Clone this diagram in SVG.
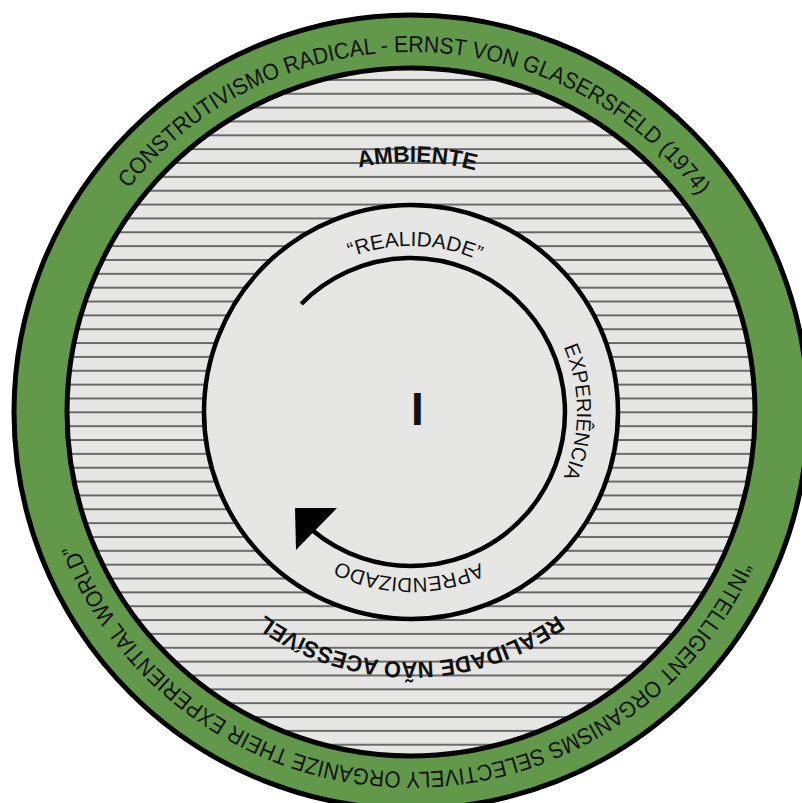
<svg xmlns="http://www.w3.org/2000/svg" width="802" height="803" viewBox="0 0 802 803">
<style>
.ring{fill:#62984a;stroke:#000;stroke-width:5}
.env{fill:url(#hatch);stroke:#000;stroke-width:5}
.real{fill:#e6e6e5;stroke:#000;stroke-width:4.5}
.t{font-family:"Liberation Sans",Arial,Helvetica,sans-serif;fill:#111}
.outer{font-size:23px}
.mid{font-size:20.5px}
.bold{font-weight:bold;font-size:23px}
.big{font-weight:bold;font-size:46px}
.arc{fill:none;stroke:#000;stroke-width:4.5}
</style>
<defs>
<pattern id="hatch" patternUnits="userSpaceOnUse" x="0" y="3.725" width="802" height="13.85">
<rect width="802" height="13.85" fill="#e6e6e5"/>
<rect y="6.3" width="802" height="1.3" fill="#2a2a2a"/>
</pattern>
<path id="pOuter" d="M51 412 A360 360 0 1 1 771 412 A360 360 0 1 1 51 412"/>
<path id="pEnv" d="M161 412 A250 250 0 1 1 661 412 A250 250 0 1 1 161 412"/>
<path id="pMid" d="M245 412 A166 166 0 1 1 577 412 A166 166 0 1 1 245 412"/>
</defs>
<rect width="802" height="803" fill="#fff"/>
<g id="outer-ring">
<circle class="ring" cx="411" cy="412" r="397"/>
<text class="t outer"><textPath href="#pOuter" startOffset="25.2%" text-anchor="middle" textLength="658" lengthAdjust="spacingAndGlyphs">CONSTRUTIVISMO RADICAL - ERNST VON GLASERSFELD (1974)</textPath></text>
<text class="t outer"><textPath href="#pOuter" startOffset="75.4%" text-anchor="middle" textLength="842" lengthAdjust="spacingAndGlyphs">“INTELLIGENT ORGANISMS SELECTIVELY ORGANIZE THEIR EXPERIENTIAL WORLD”</textPath></text>
</g>
<g id="ambiente">
<circle class="env" cx="411" cy="412" r="344"/>
<text class="t bold"><textPath href="#pEnv" startOffset="25.4%" text-anchor="middle" textLength="118" lengthAdjust="spacingAndGlyphs">AMBIENTE</textPath></text>
<text class="t bold"><textPath href="#pEnv" startOffset="75%" text-anchor="middle" textLength="312" lengthAdjust="spacingAndGlyphs">REALIDADE NÃO ACESSíVEL</textPath></text>
</g>
<g id="realidade">
<circle class="real" cx="411" cy="412" r="207"/>
<text class="t mid"><textPath href="#pMid" startOffset="25.4%" text-anchor="middle" textLength="132" lengthAdjust="spacingAndGlyphs">“REALIDADE”</textPath></text>
<text class="t mid"><textPath href="#pMid" startOffset="50%" text-anchor="middle" textLength="134" lengthAdjust="spacingAndGlyphs">EXPERIÊNCIA</textPath></text>
<text class="t mid"><textPath href="#pMid" startOffset="75.2%" text-anchor="middle" textLength="147" lengthAdjust="spacingAndGlyphs">APRENDIZADO</textPath></text>
</g>
<g id="individuo">
<text class="t big" x="417.5" y="425" text-anchor="middle">I</text>
</g>
<g id="connectors">
<path class="arc" d="M301.2 304 A154 154 0 1 1 312 530"/>
<polygon points="295,508 337,508 296,550" fill="#000"/>
</g>
</svg>
